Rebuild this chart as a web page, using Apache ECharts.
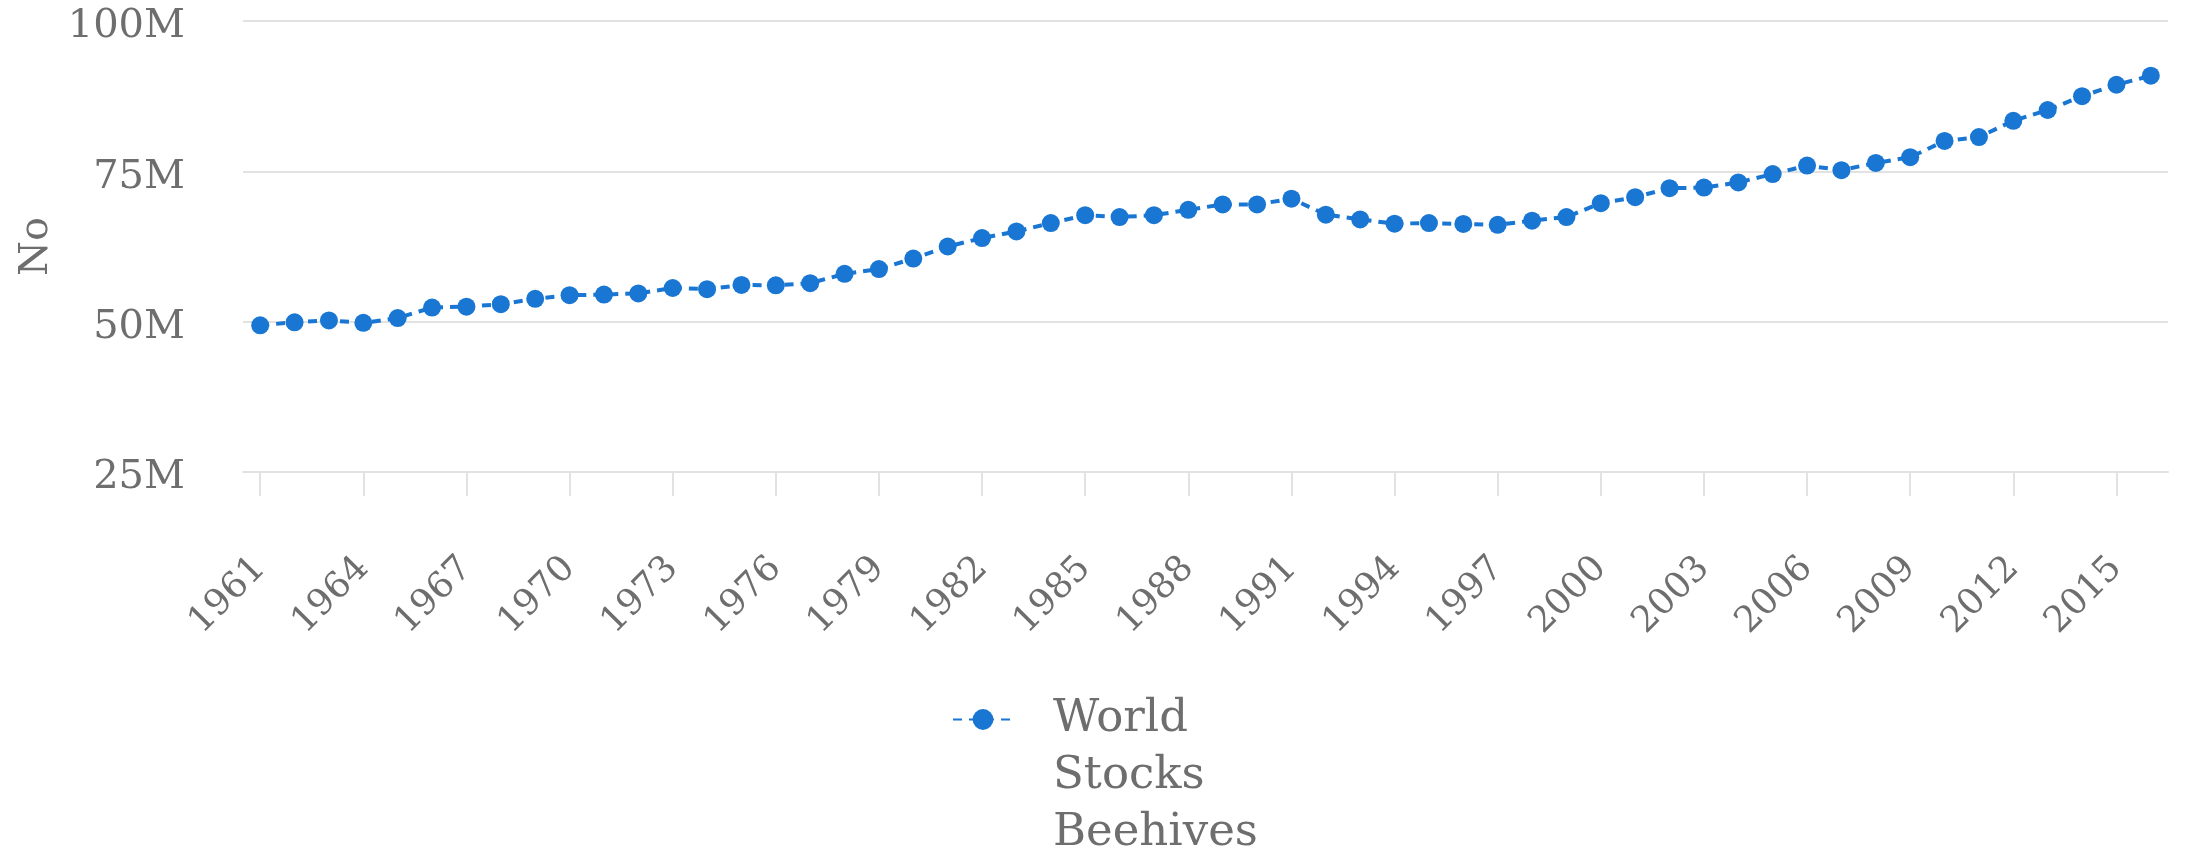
<!DOCTYPE html>
<html>
<head>
<meta charset="utf-8">
<script src="https://cdn.jsdelivr.net/npm/echarts@6/dist/echarts.min.js"></script>
<style>
html,body{margin:0;padding:0;background:#fff;}
#chart{width:2185px;height:853px;}
</style>
</head>
<body>
<div id="chart"></div>
<script>
const years = [1961,1962,1963,1964,1965,1966,1967,1968,1969,1970,1971,1972,1973,1974,1975,1976,1977,1978,1979,1980,1981,1982,1983,1984,1985,1986,1987,1988,1989,1990,1991,1992,1993,1994,1995,1996,1997,1998,1999,2000,2001,2002,2003,2004,2005,2006,2007,2008,2009,2010,2011,2012,2013,2014,2015,2016];
const beehivesMillions = [49.4,49.9,50.2,49.8,50.6,52.35,52.5,52.9,53.8,54.4,54.5,54.7,55.6,55.4,56.1,56.05,56.4,57.95,58.75,60.5,62.5,63.9,65.0,66.4,67.7,67.4,67.7,68.6,69.5,69.5,70.45,67.8,67.0,66.3,66.4,66.25,66.1,66.8,67.4,69.7,70.7,72.2,72.3,73.15,74.55,75.95,75.2,76.4,77.35,80.05,80.7,83.4,85.2,87.5,89.4,90.9];
const xTickLabels = [1961,1964,1967,1970,1973,1976,1979,1982,1985,1988,1991,1994,1997,2000,2003,2006,2009,2012,2015];
const yTicks = [25000000,50000000,75000000,100000000];
const seriesName = 'World Stocks Beehives';
const yAxisName = 'No';

const FONT = 'DejaVu Serif';
const GREY = '#6e6e6e';
const BLUE = '#1976D2';
const GRID = '#e2e2e2';

const data = years.map((y, i) => [y, beehivesMillions[i] * 1e6]);

const chart = echarts.init(document.getElementById('chart'), null, {renderer: 'canvas'});
chart.setOption({
  animation: false,
  backgroundColor: '#fff',
  grid: {left: 243, right: 17, top: 21, bottom: 381, containLabel: false, outerBoundsMode: 'none'},
  xAxis: {
    type: 'value',
    min: 1960.5,
    max: 2016.5,
    splitLine: {show: false},
    axisLine: {show: true, lineStyle: {color: GRID, width: 2}},
    axisTick: {show: true, customValues: xTickLabels, length: 24, lineStyle: {color: GRID, width: 2}},
    axisLabel: {
      customValues: xTickLabels,
      rotate: 45,
      margin: 91,
      fontFamily: FONT,
      fontSize: 36,
      color: GREY,
      formatter: v => String(v)
    }
  },
  yAxis: {
    type: 'value',
    min: yTicks[0],
    max: yTicks[yTicks.length - 1],
    interval: 25000000,
    name: yAxisName,
    nameLocation: 'middle',
    nameGap: 179,
    nameTextStyle: {fontFamily: FONT, fontSize: 40, color: GREY},
    axisLine: {show: false},
    axisTick: {show: false},
    splitLine: {show: true, lineStyle: {color: GRID, width: 2}},
    axisLabel: {
      margin: 58,
      fontFamily: FONT,
      fontSize: 40,
      color: GREY,
      verticalAlign: 'top',
      lineHeight: 12,
      formatter: v => (v / 1e6) + 'M'
    }
  },
  legend: {
    left: 952,
    top: 577,
    padding: 0,
    itemWidth: 60,
    itemHeight: 26,
    formatter: n => '\n\n' + n.split(' ').join('\n'),
    textStyle: {fontFamily: FONT, fontSize: 45, lineHeight: 57, color: GREY, padding: [0, 0, 0, 35]}
  },
  series: [{
    name: seriesName,
    type: 'line',
    data: data,
    symbol: 'circle',
    symbolSize: 18,
    itemStyle: {color: BLUE},
    lineStyle: {color: BLUE, width: 4, type: [9, 7]}
  }]
});
</script>
</body>
</html>
